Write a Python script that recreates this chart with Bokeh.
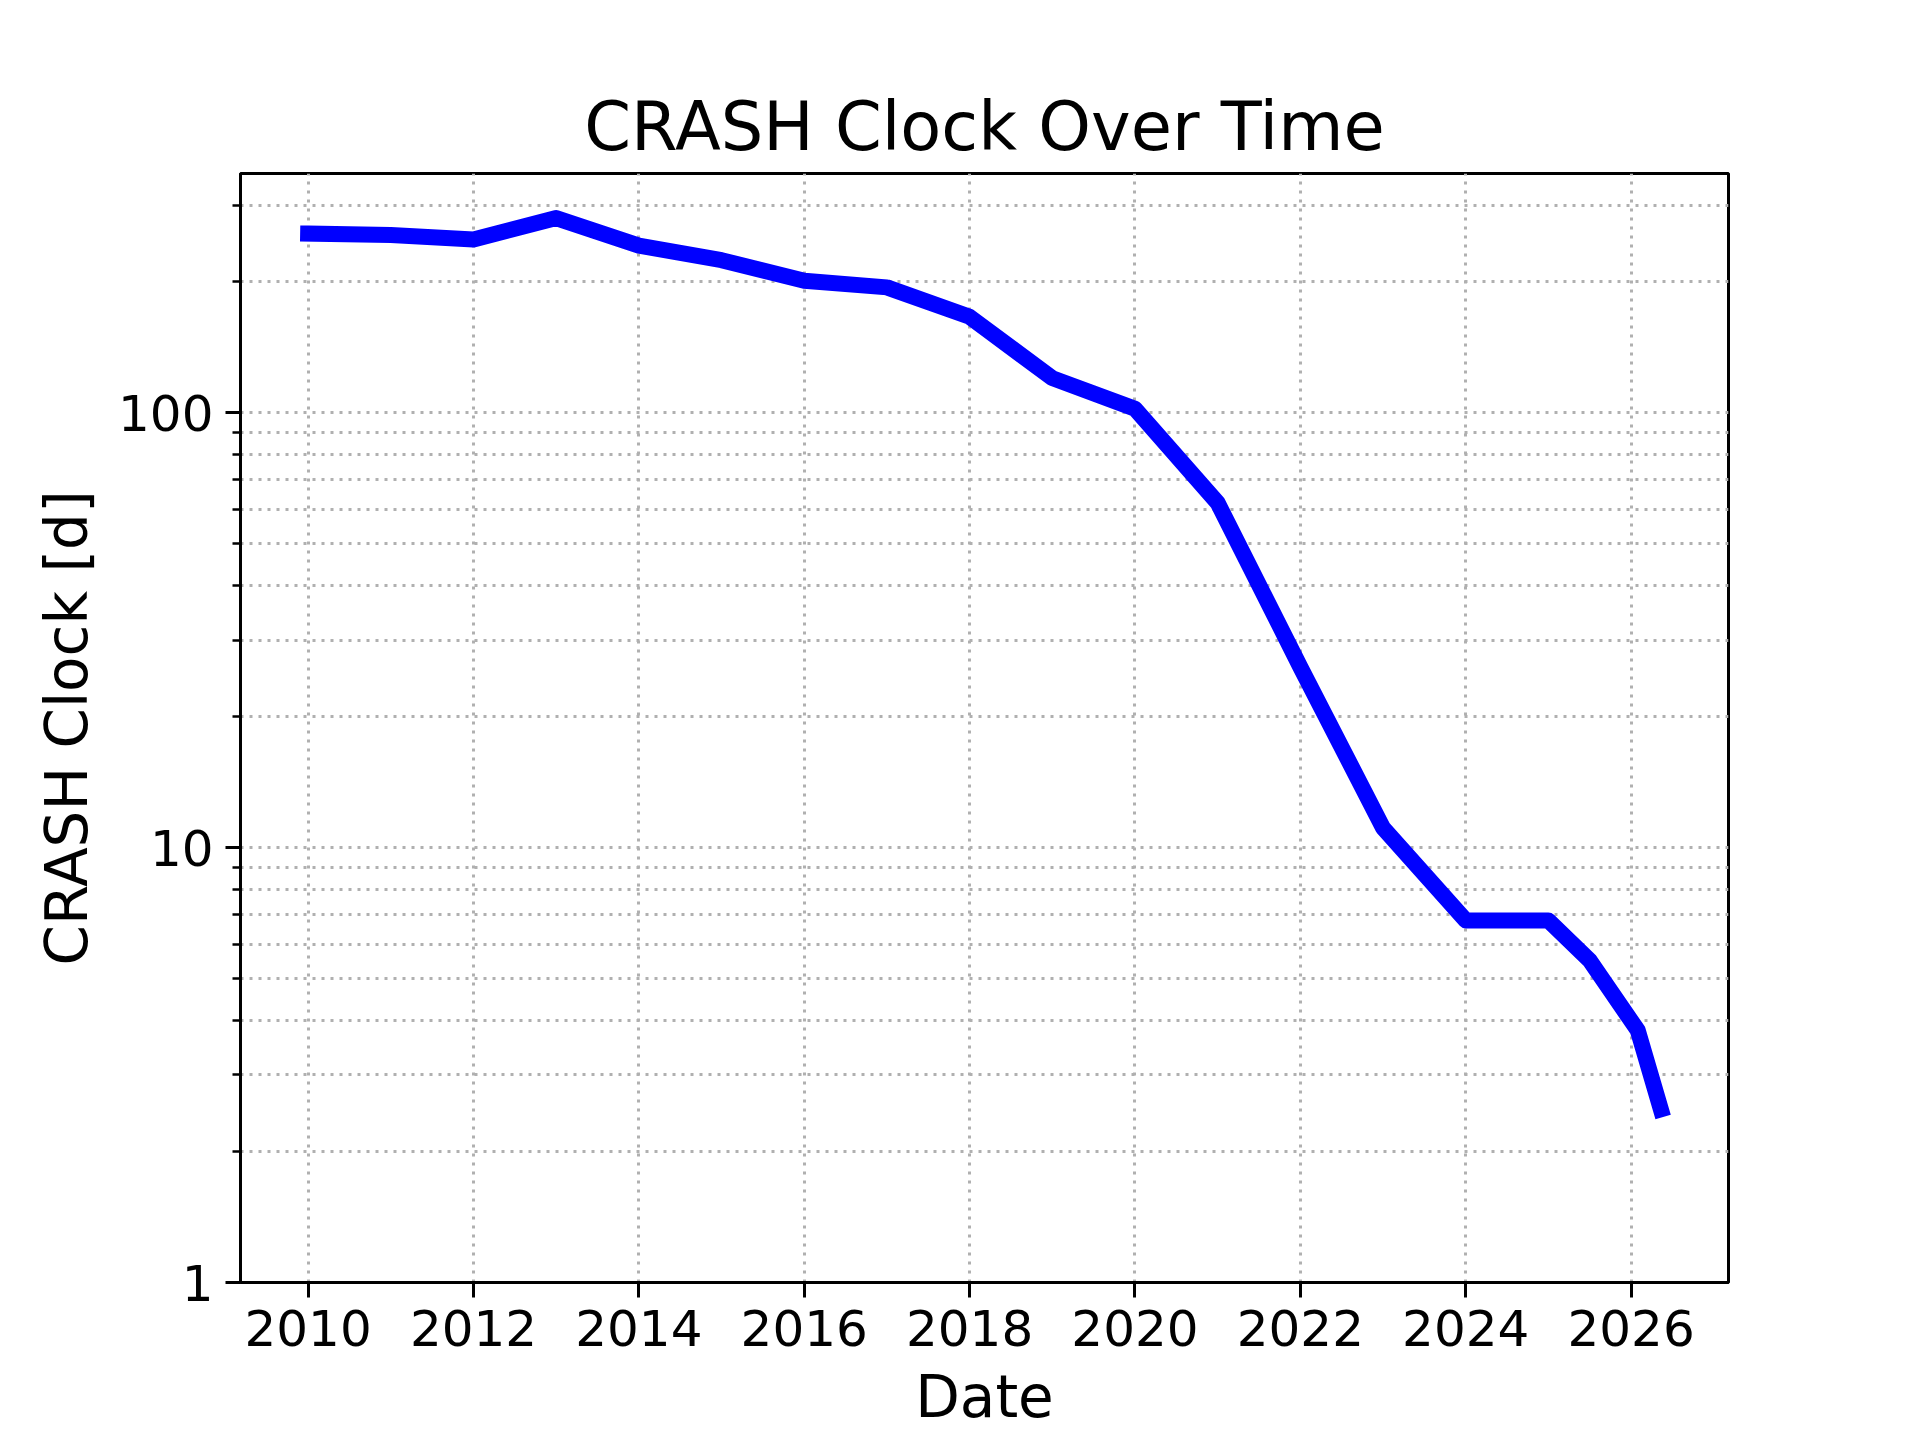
import math
from bokeh.plotting import figure
from bokeh.models import FixedTicker, PrintfTickFormatter, Range1d
from bokeh.embed import file_html
from bokeh.resources import INLINE

# ---- data ----
years = [2010.0, 2011.0, 2012.0, 2013.0, 2014.0, 2015.0, 2016.0, 2017.0,
         2018.0, 2019.0, 2020.0, 2021.0, 2022.0, 2023.0, 2024.0, 2025.0,
         2025.5, 2026.08, 2026.36]
clock_days = [258, 256, 250, 280, 242, 224, 201, 194,
              166, 120, 102, 62, 26, 11.1, 6.8, 6.8,
              5.5, 3.8, 2.5]
x_ticks = [2010, 2012, 2014, 2016, 2018, 2020, 2022, 2024, 2026]
y_major = [1, 10, 100]
y_minor = [2, 3, 4, 5, 6, 7, 8, 9, 20, 30, 40, 50, 60, 70, 80, 90, 200, 300]

title_text = "CRASH Clock Over Time"
x_label = "Date"
y_label = "CRASH Clock [d]"

FONT = "DejaVu Sans"
GRID = "#b0b0b0"

# ranges with 5% margins like matplotlib autoscaling
x_span = max(years) - min(years)
x_lo = min(years) - 0.05 * x_span
x_hi = max(years) + 0.05 * x_span
lmin, lmax = math.log10(min(clock_days)), math.log10(max(clock_days))
y_hi = 10 ** (lmax + 0.05 * (lmax - lmin))

p = figure(frame_width=1488, frame_height=1109,
           y_axis_type="log",
           x_range=Range1d(x_lo, x_hi), y_range=Range1d(1, y_hi),
           output_backend="svg", toolbar_location=None,
           min_border_left=240, min_border_right=176,
           min_border_top=173, min_border_bottom=142,
           title=title_text)

p.line(years, clock_days, line_width=16, line_color="#0000ff",
       line_join="round", line_cap="square")

# title
p.title.align = "center"
p.title.text_font = FONT
p.title.text_font_size = "67px"
p.title.text_font_style = "normal"
p.title.text_color = "black"
p.title.standoff = 16

# axes
p.xaxis.ticker = FixedTicker(ticks=x_ticks, minor_ticks=[])
p.xaxis.formatter = PrintfTickFormatter(format="%d")
p.yaxis.ticker = FixedTicker(ticks=y_major, minor_ticks=y_minor)
p.yaxis.formatter = PrintfTickFormatter(format="%d")
p.xaxis.axis_label = x_label
p.yaxis.axis_label = y_label

for ax in (p.xaxis, p.yaxis):
    ax.axis_line_width = 3
    ax.axis_line_color = "black"
    ax.major_tick_line_width = 3
    ax.major_tick_line_color = "black"
    ax.major_tick_out = 15
    ax.major_tick_in = 0
    ax.minor_tick_line_width = 2.5
    ax.minor_tick_line_color = "black"
    ax.minor_tick_out = 8
    ax.minor_tick_in = 0
    ax.major_label_text_font = FONT
    ax.major_label_text_font_size = "50px"
    ax.major_label_text_color = "black"
    ax.axis_label_text_font = FONT
    ax.axis_label_text_font_size = "58px"
    ax.axis_label_text_font_style = "normal"
    ax.axis_label_text_color = "black"

p.xaxis.major_label_standoff = 12
p.yaxis.major_label_standoff = 12
p.xaxis.axis_label_standoff = 14
p.yaxis.axis_label_standoff = 14

# grids
p.xgrid.ticker = FixedTicker(ticks=x_ticks, minor_ticks=[])
p.ygrid.ticker = FixedTicker(ticks=y_major, minor_ticks=y_minor)
for g in (p.xgrid, p.ygrid):
    g.grid_line_color = GRID
    g.grid_line_width = 3
    g.grid_line_dash = "3 6"
p.ygrid.minor_grid_line_color = GRID
p.ygrid.minor_grid_line_width = 3
p.ygrid.minor_grid_line_dash = "3 6"

p.outline_line_color = "black"
p.outline_line_width = 3
p.outline_line_alpha = 1.0
p.background_fill_color = "white"
p.border_fill_color = "white"

open("out.html", "w").write(file_html(p, INLINE))
